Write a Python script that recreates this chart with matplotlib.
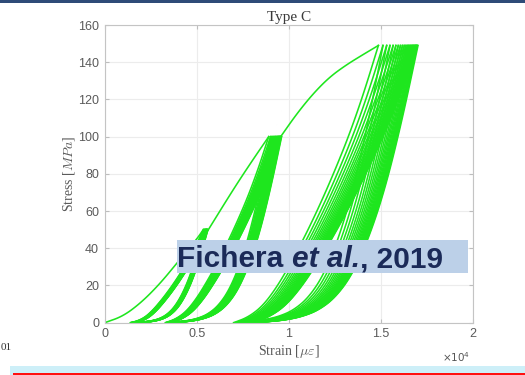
import numpy as np
import matplotlib.pyplot as plt
from matplotlib.patches import Rectangle
from matplotlib.text import Annotation

plt.rcParams['font.family'] = ['Liberation Sans', 'DejaVu Sans']

# strain in units of 1e4 micro-strain, stress in MPa
# virgin loading branches
env1_strain = [0.0, 0.1, 0.2, 0.3, 0.4, 0.5, 0.535]
env1_stress = [0.0, 3.5, 11.0, 21.0, 33.0, 45.0, 50.0]
env2_strain = [0.55, 0.70, 0.80, 0.89]
env2_stress = [48.0, 72.0, 87.0, 100.0]
env3_strain = [0.955, 1.04, 1.13, 1.22, 1.31, 1.40, 1.485]
env3_stress = [100.0, 112.0, 123.0, 132.0, 138.5, 144.0, 149.0]

# cyclic blocks: peak stress, peak strain of each cycle, residual strain after each unload
block_stress = [50.0, 100.0, 149.0]
block1_peak = [0.535, 0.538, 0.540, 0.542, 0.544, 0.546, 0.548, 0.549, 0.550, 0.551, 0.552,
               0.553, 0.554, 0.555, 0.556, 0.557, 0.558, 0.559, 0.560]
block1_resid = [0.140, 0.143, 0.145, 0.147, 0.149, 0.151, 0.152, 0.153, 0.154, 0.155, 0.156,
                0.157, 0.158, 0.159, 0.160, 0.161, 0.162, 0.163]
block2_peak = [0.890, 0.900, 0.907, 0.913, 0.918, 0.923, 0.927, 0.931, 0.935, 0.938, 0.941,
               0.944, 0.946, 0.948, 0.950, 0.952, 0.954, 0.956, 0.958, 0.960]
block2_resid = [0.330, 0.333, 0.336, 0.338, 0.340, 0.342, 0.344, 0.346, 0.348, 0.350, 0.351,
                0.352, 0.353, 0.354, 0.355, 0.356, 0.357, 0.358, 0.359]
block3_peak = [1.485, 1.510, 1.530, 1.548, 1.565, 1.580, 1.593, 1.605, 1.616, 1.626, 1.635, 1.643,
               1.650, 1.657, 1.663, 1.669, 1.674, 1.679, 1.684, 1.688, 1.692, 1.696, 1.700]
block3_resid = [0.700, 0.712, 0.722, 0.731, 0.739, 0.746, 0.752, 0.758, 0.763, 0.768, 0.772, 0.776,
                0.779, 0.782, 0.785, 0.788, 0.791, 0.793, 0.795, 0.797, 0.799, 0.800]

# loop shapes: strain fraction vs stress fraction
shape_frac = [0, 0.1, 0.2, 0.3, 0.4, 0.5, 0.6, 0.7, 0.8, 0.9, 1.0]
unload_s = [0, 0.02, 0.06, 0.13, 0.22, 0.32, 0.43, 0.55, 0.68, 0.83, 1.0]
reload_s = [0, 0.004, 0.01, 0.022, 0.045, 0.09, 0.17, 0.30, 0.48, 0.72, 1.0]


def smooth(x, y, n=3):
    pts = np.column_stack([x, y]).astype(float)
    for _ in range(n):
        q = 0.75 * pts[:-1] + 0.25 * pts[1:]
        r = 0.25 * pts[:-1] + 0.75 * pts[1:]
        new = np.empty((2 * len(q), 2))
        new[0::2] = q
        new[1::2] = r
        pts = np.vstack([pts[:1], new, pts[-1:]])
    return pts[:, 0], pts[:, 1]


fu, su = smooth(shape_frac, unload_s)
fr, sr = smooth(shape_frac, reload_s)

W, H = 525, 375
fig = plt.figure(figsize=(5.25, 3.75), dpi=100)
ax = fig.add_axes([104.7 / W, 1 - 322.7 / H, 368.6 / W, 297.7 / H])

col = '#1ee61e'
lw = 1.15
for xs, ys in [(env1_strain, env1_stress), (env2_strain, env2_stress), (env3_strain, env3_stress)]:
    x, y = smooth(xs, ys)
    ax.plot(x, y, color=col, lw=lw)

blocks = [(block1_peak, block1_resid), (block2_peak, block2_resid), (block3_peak, block3_resid)]
for S, (pk, rs) in zip(block_stress, blocks):
    for i in range(len(rs)):
        ax.plot(rs[i] + (pk[i] - rs[i]) * fu, S * su, color=col, lw=lw)
        ax.plot(rs[i] + (pk[i + 1] - rs[i]) * fr, S * sr, color=col, lw=lw)

ax.set_xlim(0, 2)
ax.set_ylim(0, 160)
ax.set_xticks([0, 0.5, 1, 1.5, 2])
ax.set_xticklabels(['0', '0.5', '1', '1.5', '2'])
ax.set_yticks(range(0, 161, 20))
ax.grid(True, color='#ececec', lw=0.8)
ax.set_axisbelow(True)
for s in ax.spines.values():
    s.set_color('#c4c4c4')
ax.tick_params(direction='in', length=3, colors='#bdbdbd', labelcolor='#5a5a5a',
               labelsize=9, top=True, right=True, pad=4)

serif = ['Liberation Serif', 'DejaVu Serif']
ax.set_title('Type C', family=serif, fontsize=11, color='#3a3a3a', pad=3)
ax.set_ylabel(r'Stress [$MPa$]', family=serif, fontsize=10, color='#5a5a5a',
              math_fontfamily='cm', labelpad=1)
ax.set_xlabel(r'Strain [$\mu\varepsilon$]', family=serif, fontsize=10, color='#5a5a5a',
              math_fontfamily='cm', labelpad=2)
fig.text(470 / W, 1 - 357 / H, r'$\times10^4$', fontsize=7.5, color='#555555',
         ha='right', va='center')

# citation box
fig.add_artist(Rectangle((176.7 / W, 1 - 273.3 / H), 291.6 / W, 33.3 / H,
                         transform=fig.transFigure, facecolor='#bcd0e8', edgecolor='none', zorder=5))
tc = '#1b2a58'
t1 = fig.text(177 / W, 1 - 267 / H, 'Fichera ', fontsize=21.5, weight='bold', color=tc,
              va='baseline', zorder=6)
t2 = Annotation('et al.', xy=(1, 0), xycoords=t1, fontsize=21.5, weight='bold',
                style='italic', color=tc, va='bottom', ha='left', zorder=6)
fig.add_artist(t2)
t3 = Annotation(', 2019', xy=(1, 0), xycoords=t2, fontsize=21.5, weight='bold',
                color=tc, va='bottom', ha='left', zorder=6)
fig.add_artist(t3)

# slide decorations
fig.add_artist(Rectangle((0, 1 - 3 / H), 1, 3 / H, transform=fig.transFigure,
                         facecolor='#2f4b78', edgecolor='none'))
fig.add_artist(Rectangle((10 / W, 0), 1, 9 / H, transform=fig.transFigure,
                         facecolor='#cdeff8', edgecolor='none'))
fig.add_artist(Rectangle((13 / W, 0), 1, 2 / H, transform=fig.transFigure,
                         facecolor='#ff1010', edgecolor='none'))
fig.text(1 / W, 1 - 348 / H, '01', family=serif, fontsize=8, color='#333333',
         ha='left', va='center')

fig.savefig('out.png', dpi=100)
